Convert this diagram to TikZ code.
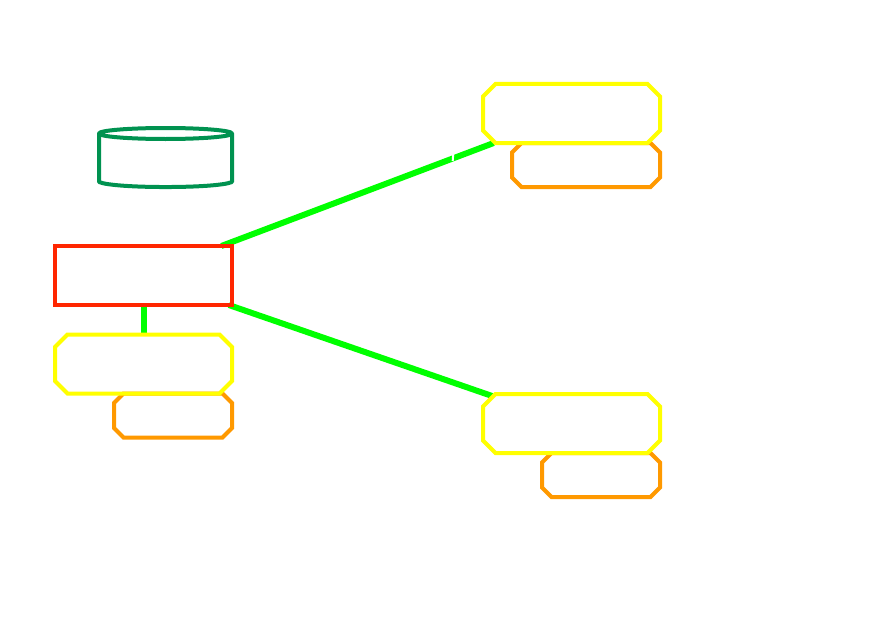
\documentclass[tikz,border=0pt]{standalone}
\usetikzlibrary{calc}
\definecolor{yellowb}{RGB}{255,255,0}
\definecolor{orangeb}{RGB}{255,153,0}
\definecolor{redb}{RGB}{255,38,0}
\definecolor{cylg}{RGB}{0,146,80}
\definecolor{lnk}{RGB}{0,255,0}
\tikzset{
  x=1pt,y=-1pt,
  frame/.style={rectangle,inner sep=0pt,outer sep=0pt,minimum width=177pt,minimum height=59pt},
  oframe/.style={rectangle,inner sep=0pt,outer sep=0pt,minimum height=44pt},
  yline/.style={draw=yellowb,line width=4pt,line join=miter},
  oline/.style={draw=orangeb,line width=4pt,line join=miter},
  rline/.style={draw=redb,line width=4pt,line join=miter},
  cline/.style={draw=cylg,line width=4pt,line join=round},
  link/.style={draw=lnk,line width=6pt},
}
\newcommand{\chamferbox}[3]{%
  \draw[#3] ($(#1.north west)+(#2,0)$) -- ($(#1.north east)+(-#2,0)$)
    -- ($(#1.north east)+(0,#2)$) -- ($(#1.south east)+(0,-#2)$)
    -- ($(#1.south east)+(-#2,0)$) -- ($(#1.south west)+(#2,0)$)
    -- ($(#1.south west)+(0,-#2)$) -- ($(#1.north west)+(0,#2)$) -- cycle;}
\begin{document}
\begin{tikzpicture}
\useasboundingbox[fill=white] (0,0) rectangle (889,618);
\node[oframe,minimum width=118pt] (o1) at (173,415.5) {};
\node[oframe,minimum width=148pt] (o2) at (586,165) {};
\node[oframe,minimum width=118pt] (o3) at (601,475) {};
\node[frame] (y1) at (143.5,364) {};
\node[frame] (y2) at (571.5,113.5) {};
\node[frame] (y3) at (571.5,423.5) {};
\node[frame] (r) at (143.5,275.5) {};
\node[rectangle,inner sep=0pt,outer sep=0pt,minimum width=133pt,minimum height=59pt] (c) at (165.5,157.5) {};
\draw[link] (r) -- (y1);
\draw[link] (r) -- (y2);
\draw[link,shorten >=-6pt] (r) -- (y3);
\draw[white,line width=2pt] (453.3,153) -- (452.7,161);
\chamferbox{o1}{9.5}{oline}
\chamferbox{o2}{9.5}{oline}
\chamferbox{o3}{9.5}{oline}
\chamferbox{y1}{12.5}{yline}
\chamferbox{y2}{12.5}{yline}
\chamferbox{y3}{12.5}{yline}
\draw[rline] (r.north west) rectangle (r.south east);
\draw[cline] ($(c.north)+(0,5.5)$) ellipse [x radius=66.5,y radius=5.5];
\draw[cline] ($(c.north west)+(0,5.5)$) -- ($(c.south west)+(0,-5)$)
  .. controls ($(c.south west)+(15,1.7)$) and ($(c.south east)+(-15,1.7)$) .. ($(c.south east)+(0,-5)$)
  -- ($(c.north east)+(0,5.5)$);
\end{tikzpicture}
\end{document}
